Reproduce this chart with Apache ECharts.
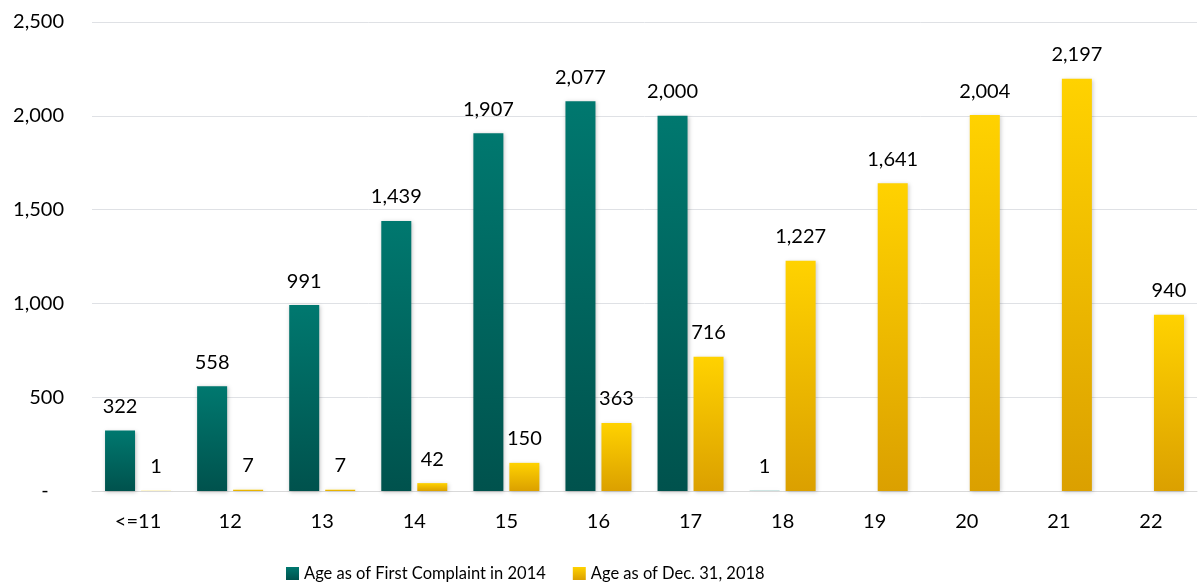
<!DOCTYPE html>
<html>
<head>
<meta charset="utf-8">
<script src="https://cdn.jsdelivr.net/npm/echarts@6/dist/echarts.min.js"></script>
<style>
html, body { margin: 0; padding: 0; background: #fff; }
#chart { width: 1199px; height: 588px; }
</style>
</head>
<body>
<div id="chart"></div>
<script>
var ages = ["<=11", "12", "13", "14", "15", "16", "17", "18", "19", "20", "21", "22"];
var firstComplaint = [322, 558, 991, 1439, 1907, 2077, 2000, 1, null, null, null, null];
var asOf2018 = [1, 7, 7, 42, 150, 363, 716, 1227, 1641, 2004, 2197, 940];
var seriesNames = ["Age as of First Complaint in 2014", "Age as of Dec. 31, 2018"];

var font = "Lato, 'Open Sans', sans-serif";

function fmt(v) {
    if (v === 0) return "-\u00a0\u00a0\u00a0";
    return v.toString().replace(/\B(?=(\d{3})+(?!\d))/g, ",");
}

function grad(top, bottom) {
    return new echarts.graphic.LinearGradient(0, 0, 0, 1, [
        { offset: 0, color: top },
        { offset: 1, color: bottom }
    ]);
}

var myChart = echarts.init(document.getElementById("chart"));
var option = {
    animation: false,
    textStyle: { fontFamily: font },
    grid: { left: 92, right: 2, top: 22, bottom: 97 },
    legend: {
        bottom: 1,
        left: 281,
        itemWidth: 13,
        itemHeight: 13,
        itemGap: 27,
        icon: "rect",
        textStyle: { fontSize: 16.5, color: "#000", fontFamily: font },
        data: seriesNames
    },
    xAxis: {
        type: "category",
        data: ages,
        axisLine: { lineStyle: { color: "#d9d9d9", width: 1 } },
        axisTick: { show: false },
        axisLabel: { color: "#000", fontSize: 20, margin: 21, fontFamily: font }
    },
    yAxis: {
        type: "value",
        min: 0,
        max: 2500,
        interval: 500,
        axisLine: { show: false },
        axisTick: { show: false },
        splitLine: { lineStyle: { color: "#dfe1e5", width: 1 } },
        axisLabel: {
            color: "#000",
            fontSize: 20,
            margin: 28,
            fontFamily: font,
            formatter: fmt
        }
    },
    series: [{
        name: seriesNames[0],
        type: "bar",
        data: firstComplaint,
        barWidth: 30,
        barGap: "20%",
        itemStyle: {
            color: grad("#00786f", "#00524d"),
            shadowColor: "rgba(0,0,0,0.25)",
            shadowBlur: 4,
            shadowOffsetX: 1,
            shadowOffsetY: 1
        },
        label: {
            show: true,
            position: "top",
            distance: 14,
            color: "#000",
            fontSize: 20,
            fontFamily: font,
            formatter: function(p) { return fmt(p.value); }
        }
    }, {
        name: seriesNames[1],
        type: "bar",
        data: asOf2018,
        barWidth: 30,
        itemStyle: {
            color: grad("#ffd200", "#dba000"),
            shadowColor: "rgba(0,0,0,0.2)",
            shadowBlur: 4,
            shadowOffsetX: 1,
            shadowOffsetY: 1
        },
        label: {
            show: true,
            position: "top",
            distance: 14,
            color: "#000",
            fontSize: 20,
            fontFamily: font,
            formatter: function(p) { return fmt(p.value); }
        }
    }]
};
myChart.setOption(option);
</script>
</body>
</html>
